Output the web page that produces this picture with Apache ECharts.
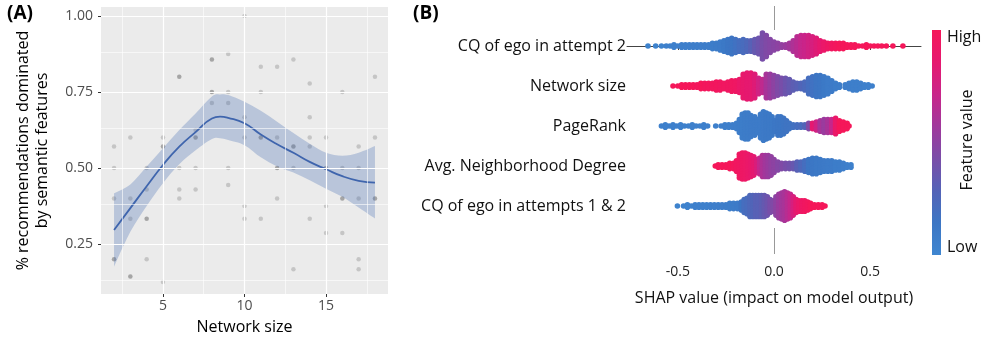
<!DOCTYPE html>
<html><head><meta charset="utf-8">
<script src="https://cdn.jsdelivr.net/npm/echarts@6/dist/echarts.min.js"></script>
<style>html,body{margin:0;padding:0;background:#fff}#c{width:986px;height:341px}</style>
</head><body><div id="c"></div>
<script>
// ---------- Panel A data ----------
const networkPoints = [
  [2,0.571],[2,0.5],[2,0.4],[2,0.2],[2,0.2],
  [3,0.6],[3,0.4],[3,0.333],[3,0.143],[3,0.143],
  [4,0.5],[4,0.429],[4,0.333],[4,0.333],[4,0.2],
  [5,0.6],[5,0.571],[5,0.571],[5,0.5],[5,0.125],
  [6,0.8],[6,0.8],[6,0.5],[6,0.429],[6,0.4],
  [7,0.625],[7,0.6],[7,0.6],[7,0.5],[7,0.429],
  [8,0.857],[8,0.857],[8,0.75],[8,0.75],[8,0.714],
  [9,0.875],[9,0.75],[9,0.714],[9,0.5],[9,0.444],
  [10,1.0],[10,0.667],[10,0.6],[10,0.375],[10,0.333],
  [11,0.833],[11,0.75],[11,0.6],[11,0.6],[11,0.333],
  [12,0.833],[12,0.6],[12,0.5],[12,0.5],[12,0.4],
  [13,0.857],[13,0.571],[13,0.571],[13,0.5],[13,0.167],
  [14,0.778],[14,0.667],[14,0.6],[14,0.571],[14,0.333],
  [15,0.6],[15,0.5],[15,0.5],[15,0.375],[15,0.286],
  [16,0.75],[16,0.5],[16,0.4],[16,0.4],[16,0.286],
  [17,0.571],[17,0.5],[17,0.4],[17,0.2],[17,0.167],
  [18,0.8],[18,0.6],[18,0.4],[18,0.4]
];
const smoothX     = [2,3,4,5,6,7,8,8.5,9,10,11,12,13,14,15,16,17,18];
const smoothFit   = [0.296,0.368,0.44,0.51,0.57,0.618,0.663,0.669,0.665,0.647,0.61,0.578,0.55,0.52,0.496,0.473,0.458,0.452];
const smoothUpper = [0.417,0.446,0.505,0.565,0.625,0.679,0.735,0.742,0.74,0.718,0.688,0.652,0.615,0.58,0.55,0.54,0.55,0.572];
const smoothLower = [0.175,0.29,0.375,0.45,0.512,0.558,0.595,0.598,0.592,0.575,0.535,0.505,0.485,0.46,0.432,0.405,0.37,0.334];
const xTicksA = [5,10,15];
const xMinorA = [2.5,7.5,12.5,17.5];
const yTicksA = [0.25,0.5,0.75,1.0];
const yMinorA = [0.125,0.375,0.625,0.875];

// ---------- Panel B data ----------
const features = ['CQ of ego in attempt 2','Network size','PageRank','Avg. Neighborhood Degree','CQ of ego in attempts 1 & 2'];
const shapTicks = [-0.5,0,0.5];
// each entry: [SHAP value, number of stacked dots, feature value (0 low - 1 high)]
const swarmCQ2 = [
  [-0.655,1,0.03],[-0.615,1,0.03],[-0.585,1,0.04],[-0.56,1,0.05],[-0.54,1,0.05],[-0.52,2,0.05],[-0.50,1,0.05],
  [-0.48,2,0.06],[-0.46,2,0.06],[-0.44,2,0.06],[-0.42,2,0.07],[-0.40,2,0.07],[-0.38,2,0.07],[-0.36,2,0.08],
  [-0.34,2,0.08],[-0.32,3,0.08],[-0.30,3,0.09],[-0.28,4,0.1],[-0.26,5,0.12],[-0.24,6,0.14],[-0.22,7,0.15],
  [-0.20,6,0.17],[-0.18,5,0.2],[-0.16,6,0.22],[-0.14,5,0.25],[-0.12,5,0.3],[-0.10,6,0.35],[-0.08,7,0.38],
  [-0.06,11,0.42],[-0.04,9,0.45],[-0.02,6,0.47],[0.00,4,0.48],[0.02,3,0.5],[0.04,2,0.52],[0.06,2,0.55],
  [0.08,3,0.58],[0.10,5,0.62],[0.12,8,0.66],[0.14,9,0.7],[0.16,9,0.72],[0.18,9,0.75],[0.20,8,0.78],
  [0.22,7,0.82],[0.24,5,0.86],[0.26,4,0.9],[0.28,3,0.93],[0.30,3,0.96],[0.32,3,0.98],[0.34,3,1],[0.36,3,1],
  [0.38,2,1],[0.40,2,1],[0.42,2,1],[0.44,1,1],[0.46,1,1],[0.48,2,1],[0.50,1,1],[0.52,1,1],[0.54,1,1],
  [0.56,1,1],[0.584,1,1],[0.618,1,1],[0.67,1,1]
];
const swarmSize = [
  [-0.525,1,1],[-0.50,1,1],[-0.48,2,1],[-0.46,2,1],[-0.44,2,1],[-0.42,2,1],[-0.40,2,0.98],[-0.38,3,1],
  [-0.36,3,0.98],[-0.34,3,0.98],[-0.32,3,0.97],[-0.30,4,0.97],[-0.28,4,0.96],[-0.26,3,0.96],[-0.24,4,0.95],
  [-0.22,5,0.95],[-0.20,5,0.94],[-0.18,6,0.9],[-0.16,10,0.88],[-0.14,11,0.86],[-0.12,11,0.85],[-0.10,10,0.82],
  [-0.08,7,0.75],[-0.06,6,0.68],[-0.04,10,0.6],[-0.02,10,0.55],[0.00,9,0.5],[0.02,8,0.45],[0.04,7,0.42],
  [0.06,7,0.38],[0.08,6,0.35],[0.10,4,0.32],[0.12,3,0.3],[0.14,3,0.27],[0.16,4,0.24],[0.18,7,0.2],
  [0.20,8,0.17],[0.22,9,0.15],[0.24,9,0.14],[0.26,8,0.12],[0.28,7,0.1],[0.30,5,0.1],[0.32,3,0.08],
  [0.34,2,0.08],[0.37,2,0.07],[0.39,3,0.07],[0.41,4,0.06],[0.43,4,0.06],[0.45,3,0.06],[0.47,2,0.05],
  [0.49,2,0.05],[0.51,1,0.05]
];
const swarmPageRank = [
  [-0.585,1,0.05],[-0.565,2,0.05],[-0.545,1,0.05],[-0.525,2,0.05],[-0.505,1,0.05],[-0.485,2,0.05],
  [-0.465,1,0.05],[-0.445,1,0.05],[-0.425,2,0.05],[-0.405,1,0.05],[-0.385,1,0.05],[-0.365,2,0.05],
  [-0.345,1,0.05],[-0.303,1,0.05],[-0.275,1,0.06],[-0.255,2,0.06],[-0.235,2,0.06],[-0.215,2,0.07],
  [-0.195,3,0.07],[-0.18,6,0.08],[-0.165,10,0.08],[-0.15,11,0.09],[-0.135,11,0.09],[-0.12,9,0.1],
  [-0.10,8,0.1],[-0.085,6,0.1],[-0.07,10,0.1],[-0.055,12,0.11],[-0.04,11,0.12],[-0.025,10,0.12],
  [-0.01,8,0.12],[0.005,5,0.13],[0.02,8,0.14],[0.035,8,0.14],[0.05,7,0.15],[0.065,5,0.16],[0.08,3,0.16],
  [0.10,2,0.18],[0.12,2,0.2],[0.14,2,0.22],[0.16,2,0.28],[0.18,3,0.45],[0.20,3,0.85],[0.22,4,0.75],
  [0.24,5,0.6],[0.26,6,0.55],[0.28,6,0.6],[0.30,6,0.7],[0.32,7,0.9],[0.34,5,1],[0.36,4,1],[0.38,3,1],[0.39,1,1]
];
const swarmAvgDegree = [
  [-0.305,1,1],[-0.29,2,1],[-0.27,2,1],[-0.25,2,1],[-0.23,3,1],[-0.21,3,0.98],[-0.195,5,0.96],
  [-0.18,10,0.95],[-0.165,11,0.93],[-0.15,11,0.92],[-0.135,10,0.9],[-0.12,9,0.88],[-0.105,8,0.85],
  [-0.09,6,0.8],[-0.075,7,0.7],[-0.06,9,0.62],[-0.045,9,0.58],[-0.03,9,0.55],[-0.015,8,0.52],[0.00,6,0.5],
  [0.02,4,0.47],[0.04,3,0.45],[0.06,3,0.42],[0.08,3,0.4],[0.10,3,0.36],[0.12,4,0.3],[0.14,4,0.25],
  [0.16,5,0.2],[0.18,6,0.15],[0.20,7,0.13],[0.22,7,0.12],[0.24,6,0.12],[0.26,5,0.11],[0.28,5,0.1],
  [0.30,5,0.1],[0.32,4,0.08],[0.34,4,0.08],[0.36,3,0.07],[0.38,2,0.06],[0.40,2,0.05]
];
const swarmCQ12 = [
  [-0.502,1,0.03],[-0.47,1,0.04],[-0.45,2,0.04],[-0.43,1,0.04],[-0.41,2,0.05],[-0.39,2,0.05],[-0.37,2,0.05],
  [-0.35,2,0.05],[-0.33,2,0.06],[-0.31,2,0.06],[-0.29,2,0.07],[-0.27,2,0.07],[-0.25,2,0.08],[-0.23,3,0.08],
  [-0.21,3,0.09],[-0.19,3,0.1],[-0.17,4,0.15],[-0.155,6,0.2],[-0.14,7,0.22],[-0.125,9,0.25],[-0.11,9,0.27],
  [-0.095,9,0.3],[-0.08,9,0.3],[-0.065,9,0.32],[-0.05,9,0.35],[-0.035,8,0.38],[-0.02,6,0.42],[-0.005,5,0.45],
  [0.01,8,0.5],[0.025,10,0.55],[0.04,11,0.58],[0.055,12,0.6],[0.07,11,0.65],[0.085,10,0.7],[0.10,8,0.78],
  [0.115,6,0.85],[0.13,5,0.9],[0.145,5,0.93],[0.16,5,0.95],[0.175,4,0.97],[0.19,3,1],[0.21,2,1],
  [0.23,2,1],[0.25,2,1],[0.265,1,1]
];
const featureColors = ['#3F86D0','#3C76C4','#5463B7','#7A4DA8','#A0389C','#C9258A','#E6186F','#F5175A'];

// ---------- build ----------
const rowsB = [swarmCQ2, swarmSize, swarmPageRank, swarmAvgDegree, swarmCQ12];
const dotsB = [];
rowsB.forEach((row, r) => row.forEach(([s, n, c]) => {
  for (let j = 0; j < n; j++) dotsB.push([s, r + (j - (n - 1) / 2) * 0.065, c]);
}));
const bandData = smoothX.map((x, i) => [x, smoothLower[i], smoothUpper[i]]);
const fitLine = smoothX.map((x, i) => [x, smoothFit[i]]);

// Catmull-Rom spline through pixel points -> cubic Bezier path commands
function splineCmds(pts) {
  let d = '';
  for (let i = 0; i < pts.length - 1; i++) {
    const p0 = pts[Math.max(i - 1, 0)], p1 = pts[i], p2 = pts[i + 1], p3 = pts[Math.min(i + 2, pts.length - 1)];
    const c1 = [p1[0] + (p2[0] - p0[0]) / 6, p1[1] + (p2[1] - p0[1]) / 6];
    const c2 = [p2[0] - (p3[0] - p1[0]) / 6, p2[1] - (p3[1] - p1[1]) / 6];
    d += ' C' + c1[0] + ',' + c1[1] + ' ' + c2[0] + ',' + c2[1] + ' ' + p2[0] + ',' + p2[1];
  }
  return d;
}

const chart = echarts.init(document.getElementById('c'), null, {renderer: 'canvas'});
const none = ['none', 'none'];
chart.setOption({
  animation: false,
  textStyle: {fontFamily: 'Open Sans'},
  grid: [
    {left: 101, top: 7, width: 287, height: 287, show: true, backgroundColor: '#EBEBEB', borderWidth: 0},
    {left: 627, top: 6, width: 294, height: 248}
  ],
  xAxis: [
    {gridIndex: 0, type: 'value', min: 1.2, max: 18.8,
     axisLine: {show: false}, splitLine: {show: false},
     axisTick: {customValues: xTicksA, length: 3, lineStyle: {color: '#333'}},
     axisLabel: {customValues: xTicksA, color: '#4D4D4D', fontSize: 14, margin: 5},
     name: 'Network size', nameLocation: 'middle', nameGap: 25,
     nameTextStyle: {fontSize: 16, color: '#000'}},
    {gridIndex: 1, type: 'value', min: -0.764, max: 0.764,
     axisLine: {show: true, lineStyle: {color: '#444', width: 1}}, splitLine: {show: false},
     axisTick: {customValues: shapTicks, length: 4, lineStyle: {color: '#444'}},
     axisLabel: {customValues: shapTicks, color: '#222', fontSize: 14, margin: 11,
                 formatter: v => v.toFixed(1)},
     name: 'SHAP value (impact on model output)', nameLocation: 'middle', nameGap: 36,
     nameTextStyle: {fontSize: 16, color: '#111'}}
  ],
  yAxis: [
    {gridIndex: 0, type: 'value', min: 0.0855, max: 1.0296,
     axisLine: {show: false}, splitLine: {show: false},
     axisTick: {customValues: yTicksA, length: 3, lineStyle: {color: '#333'}},
     axisLabel: {customValues: yTicksA, color: '#4D4D4D', fontSize: 14, margin: 8,
                 formatter: v => v.toFixed(2)},
     name: '% recommendations dominated\nby semantic features', nameLocation: 'middle', nameGap: 49,
     nameTextStyle: {fontSize: 16, color: '#000', lineHeight: 19}},
    {gridIndex: 1, type: 'value', min: -1, max: 5.2, inverse: true,
     axisLine: {show: false}, axisTick: {show: false}, splitLine: {show: false},
     axisLabel: {customValues: [0,1,2,3,4], formatter: v => features[v], color: '#111', fontSize: 16, margin: 1}}
  ],
  visualMap: {show: false, type: 'continuous', seriesIndex: 5, dimension: 2, min: 0, max: 1,
              inRange: {color: featureColors}},
  series: [
    {type: 'line', xAxisIndex: 0, yAxisIndex: 0, data: [], z: 1, silent: true,
     markLine: {silent: true, symbol: none, label: {show: false}, animation: false,
       data: [].concat(
         xMinorA.map(v => ({xAxis: v, lineStyle: {color: '#fff', width: 0.6, type: 'solid'}})),
         yMinorA.map(v => ({yAxis: v, lineStyle: {color: '#fff', width: 0.6, type: 'solid'}})),
         xTicksA.map(v => ({xAxis: v, lineStyle: {color: '#fff', width: 1.2, type: 'solid'}})),
         yTicksA.map(v => ({yAxis: v, lineStyle: {color: '#fff', width: 1.2, type: 'solid'}})))}},
    {type: 'scatter', xAxisIndex: 0, yAxisIndex: 0, data: networkPoints, z: 2, symbolSize: 4.5,
     itemStyle: {color: 'rgba(0,0,0,0.2)'}, silent: true},
    {type: 'custom', xAxisIndex: 0, yAxisIndex: 0, data: bandData, z: 3, silent: true,
     renderItem: (params, api) => {
       if (params.dataIndex !== 0) return null;
       const up = bandData.map(d => api.coord([d[0], d[2]]));
       const lo = bandData.map(d => api.coord([d[0], d[1]])).reverse();
       const path = 'M' + up[0][0] + ',' + up[0][1] + splineCmds(up) +
                    ' L' + lo[0][0] + ',' + lo[0][1] + splineCmds(lo) + ' Z';
       return {type: 'path', shape: {pathData: path}, style: {fill: 'rgba(70,110,180,0.3)', stroke: null}};
     }},
    {type: 'line', xAxisIndex: 0, yAxisIndex: 0, data: fitLine, smooth: true, symbol: 'none',
     lineStyle: {color: '#3F65AD', width: 1.8}, z: 4, silent: true},
    {type: 'line', xAxisIndex: 1, yAxisIndex: 1, data: [], z: 1, silent: true,
     markLine: {silent: true, symbol: none, label: {show: false}, animation: false,
       lineStyle: {color: '#999', width: 1, type: 'solid'},
       data: [[{coord: [0, -1]}, {coord: [0, -0.4]}], [{coord: [0, 4.55]}, {coord: [0, 5.2]}]]}},
    {type: 'scatter', xAxisIndex: 1, yAxisIndex: 1, data: dotsB, symbolSize: 5.6, z: 2, silent: true,
     itemStyle: {opacity: 1}}
  ],
  graphic: [
    {type: 'text', left: 7, top: 4, style: {text: '(A)', fontSize: 19, fontWeight: 'bold', fill: '#000', fontFamily: 'Open Sans'}},
    {type: 'text', left: 413, top: 4, style: {text: '(B)', fontSize: 19, fontWeight: 'bold', fill: '#000', fontFamily: 'Open Sans'}},
    {type: 'rect', left: 932, top: 30, shape: {width: 9, height: 225},
     style: {fill: new echarts.graphic.LinearGradient(0, 1, 0, 0,
       featureColors.map((c, i) => ({offset: i / (featureColors.length - 1), color: c})))}},
    {type: 'text', x: 947, y: 37, style: {text: 'High', fontSize: 16, fill: '#111', verticalAlign: 'middle', fontFamily: 'Open Sans'}},
    {type: 'text', x: 947, y: 247, style: {text: 'Low', fontSize: 16, fill: '#111', verticalAlign: 'middle', fontFamily: 'Open Sans'}},
    {type: 'text', x: 967, y: 140, rotation: Math.PI / 2,
     style: {text: 'Feature value', fontSize: 16, fill: '#111', align: 'center', verticalAlign: 'middle', fontFamily: 'Open Sans'}}
  ]
});
</script></body></html>
